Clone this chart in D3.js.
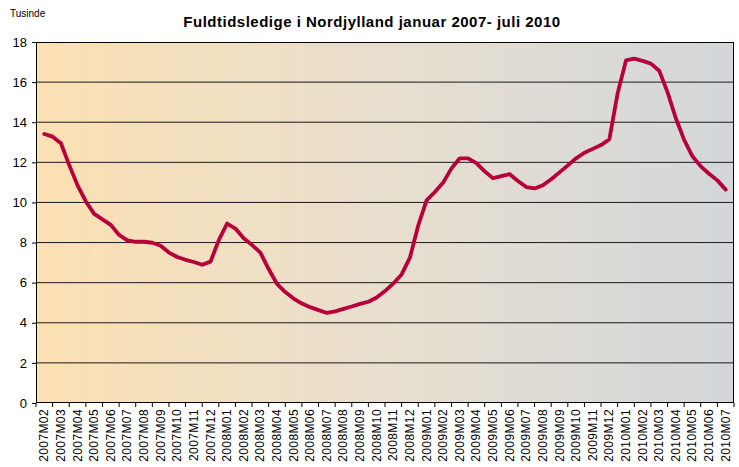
<!DOCTYPE html>
<html>
<head>
<meta charset="utf-8">
<script src="https://cdn.jsdelivr.net/npm/d3@7"></script>
<style>
  body { margin: 0; background: #ffffff; }
  svg { display: block; font-family: "Liberation Sans", Arial, sans-serif; }
</style>
</head>
<body>
<svg id="chart" width="739" height="467"></svg>
<script>
// Category labels (months)
const months = [
  "2007M02","2007M03","2007M04","2007M05","2007M06","2007M07","2007M08","2007M09","2007M10","2007M11","2007M12",
  "2008M01","2008M02","2008M03","2008M04","2008M05","2008M06","2008M07","2008M08","2008M09","2008M10","2008M11","2008M12",
  "2009M01","2009M02","2009M03","2009M04","2009M05","2009M06","2009M07","2009M08","2009M09","2009M10","2009M11","2009M12",
  "2010M01","2010M02","2010M03","2010M04","2010M05","2010M06","2010M07"
];
// Readings at half-month steps (thousands), from 2007M02 to 2010M07
const values = [
  13.41, 13.28, 12.95, 11.86, 10.85, 10.05, 9.43, 9.16, 8.88, 8.38,
  8.11, 8.04, 8.04, 7.99, 7.84, 7.50, 7.28, 7.14, 7.03, 6.89,
  7.05, 8.12, 8.95, 8.70, 8.21, 7.88, 7.50, 6.68, 5.94, 5.53,
  5.21, 4.96, 4.78, 4.63, 4.49, 4.57, 4.69, 4.81, 4.94, 5.05,
  5.26, 5.58, 5.96, 6.41, 7.25, 8.85, 10.10, 10.52, 10.99, 11.70,
  12.20, 12.20, 11.96, 11.55, 11.21, 11.31, 11.41, 11.07, 10.77, 10.70,
  10.86, 11.16, 11.50, 11.85, 12.20, 12.48, 12.67, 12.86, 13.15, 15.45,
  17.08, 17.17, 17.06, 16.92, 16.57, 15.50, 14.20, 13.12, 12.30, 11.80,
  11.43, 11.10, 10.64
];
const yTicks = [0, 2, 4, 6, 8, 10, 12, 14, 16, 18];
const title = "Fuldtidsledige i Nordjylland januar 2007- juli 2010";
const unitLabel = "Tusinde";

const svg = d3.select("#chart");
const margin = { left: 36, right: 5, top: 42, bottom: 64 };
const W = 739, H = 467;
const pw = W - margin.left - margin.right;
const ph = H - margin.top - margin.bottom;

const x = d3.scaleBand().domain(months).range([margin.left, margin.left + pw]).paddingInner(0).paddingOuter(0);
const y = d3.scaleLinear().domain([0, 18]).range([margin.top + ph, margin.top]);

// background gradient
const defs = svg.append("defs");
const grad = defs.append("linearGradient").attr("id", "bg").attr("x1", "0%").attr("x2", "100%").attr("y1", "0%").attr("y2", "0%");
grad.append("stop").attr("offset", "0%").attr("stop-color", "#fbe0b2");
grad.append("stop").attr("offset", "50%").attr("stop-color", "#e8dfcf");
grad.append("stop").attr("offset", "100%").attr("stop-color", "#d3d7da");

svg.append("rect")
  .attr("x", margin.left).attr("y", margin.top)
  .attr("width", pw).attr("height", ph)
  .attr("fill", "url(#bg)");

// gridlines
svg.append("g").selectAll("line")
  .data(yTicks.filter(d => d > 0 && d < 18))
  .join("line")
  .attr("x1", margin.left).attr("x2", margin.left + pw)
  .attr("y1", d => y(d)).attr("y2", d => y(d))
  .attr("stroke", "#1a1a1a").attr("stroke-width", 1);

// line
const step = x.bandwidth();
const xPos = i => x(months[0]) + step / 2 + (i / 2) * step;
const line = d3.line()
  .x((d, i) => xPos(i))
  .y(d => y(d))
  .curve(d3.curveLinear);

svg.append("path")
  .datum(values)
  .attr("d", line)
  .attr("fill", "none")
  .attr("stroke", "#b8003a")
  .attr("stroke-width", 3.8)
  .attr("stroke-linejoin", "round")
  .attr("stroke-linecap", "round");

// border
svg.append("rect")
  .attr("x", margin.left + 0.5).attr("y", margin.top + 0.5)
  .attr("width", pw - 1).attr("height", ph - 1)
  .attr("fill", "none").attr("stroke", "#000").attr("stroke-width", 1);

// y axis
const yAxis = d3.axisLeft(y).tickValues(yTicks).tickSize(4).tickPadding(5).tickFormat(d3.format("d"));
const gy = svg.append("g").attr("transform", `translate(${margin.left},0)`).call(yAxis);
gy.select(".domain").remove();
gy.selectAll("text").attr("font-size", 13).attr("fill", "#000").attr("font-family", "'Liberation Sans', Arial, sans-serif");
gy.selectAll("line").attr("stroke", "#000");

// x axis
const xAxis = d3.axisBottom(x).tickSize(0).tickPadding(0);
const gx = svg.append("g").attr("transform", `translate(0,${margin.top + ph})`).call(xAxis);
gx.select(".domain").remove();
gx.selectAll("text")
  .attr("font-size", 12)
  .attr("letter-spacing", 0.4)
  .attr("fill", "#000")
  .attr("font-family", "'Liberation Sans', Arial, sans-serif")
  .attr("text-anchor", "end")
  .attr("dy", null)
  .attr("y", 0)
  .attr("transform", "translate(4,6) rotate(-90)");
// x tick marks at band boundaries
const boundaries = months.map(m => x(m)).concat([margin.left + pw]);
svg.append("g").selectAll("line")
  .data(boundaries)
  .join("line")
  .attr("x1", d => d).attr("x2", d => d)
  .attr("y1", margin.top + ph).attr("y2", margin.top + ph + 4)
  .attr("stroke", "#000");

// title and unit
svg.append("text")
  .attr("x", 372).attr("y", 27)
  .attr("text-anchor", "middle")
  .attr("font-size", 15).attr("font-weight", "bold")
  .attr("letter-spacing", 0.5)
  .text(title);
svg.append("text")
  .attr("x", 10).attr("y", 17)
  .attr("font-size", 10)
  .text(unitLabel);
</script>
</body>
</html>
